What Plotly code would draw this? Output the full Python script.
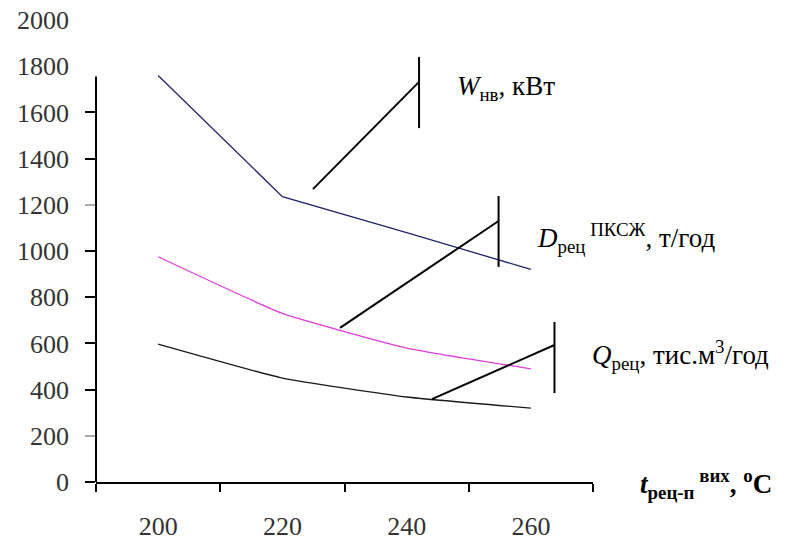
import plotly.graph_objects as go

# ---- data ----
categories = ["200", "220", "240", "260"]
W_nv = [1760, 1235, 1080, 920]      # W_нв, кВт
D_rec = [975, 730, 580, 490]        # D_рец ПКСЖ, т/год
Q_rec = [597, 450, 368, 320]        # Q_рец, тис.м3/год

y_tickvals = [0, 200, 400, 600, 800, 1000, 1200, 1400, 1600, 1800, 2000]
y_ticks_dark = [0, 400, 600, 800, 1000, 1400, 1600]
y_ticks_gray = [200, 1200]
y_axis_top = 1755

FONT = "Liberation Serif"

fig = go.Figure()
fig.add_trace(go.Scatter(x=categories, y=W_nv, mode="lines",
                         line=dict(color="#22226e", width=1.3), showlegend=False))
fig.add_trace(go.Scatter(x=categories, y=D_rec, mode="lines",
                         line=dict(color="#e03ce0", width=1.3, shape="spline", smoothing=0.4),
                         showlegend=False))
fig.add_trace(go.Scatter(x=categories, y=Q_rec, mode="lines",
                         line=dict(color="#1a1a1a", width=1.3, shape="spline", smoothing=0.4),
                         showlegend=False))
# empty traces so the overlay tick axes are drawn
fig.add_trace(go.Scatter(x=[], y=[], yaxis="y2", showlegend=False))
fig.add_trace(go.Scatter(x=[], y=[], yaxis="y3", showlegend=False))

tickfont = dict(family=FONT, size=26, color="#333")
fig.update_layout(
    width=794, height=542, autosize=False,
    margin=dict(l=88, r=209, t=12, b=68),
    paper_bgcolor="white", plot_bgcolor="white",
    font=dict(family=FONT),
    xaxis=dict(type="category", categoryarray=categories, range=[-0.5, 3.5],
               tickson="boundaries", ticks="outside", ticklen=8, tickwidth=2,
               tickcolor="black", showline=True, linecolor="black", linewidth=2,
               showgrid=False, zeroline=False, ticklabelstandoff=20, automargin=False,
               tickfont=tickfont),
    yaxis=dict(range=[0, 2000], tickvals=y_tickvals, ticks="", showline=False,
               showgrid=False, zeroline=False, ticklabelstandoff=26, automargin=False,
               ticklabeloverflow="allow", tickfont=tickfont),
    yaxis2=dict(range=[0, 2000], overlaying="y", tickvals=y_ticks_dark,
                ticks="outside", ticklen=10, tickwidth=2, tickcolor="black", automargin=False,
                showticklabels=False, showline=False, showgrid=False, zeroline=False),
    yaxis3=dict(range=[0, 2000], overlaying="y", tickvals=y_ticks_gray,
                ticks="outside", ticklen=10, tickwidth=2, tickcolor="#aaaaaa", automargin=False,
                showticklabels=False, showline=False, showgrid=False, zeroline=False),
)

# y-axis line (stops below the top labels, as in the original)
fig.add_shape(type="line", xref="paper", yref="y", x0=0, x1=0, y0=0, y1=y_axis_top,
              line=dict(color="black", width=2))

# callout leader lines (category index on x, value on y)
callouts = [
    # (diag start, diag end, bracket x, bracket y0, bracket y1)
    ((1.246, 1268), (2.10, 1732), 2.10, 1840, 1532),
    ((1.464, 667), (2.74, 1130), 2.74, 1238, 931),
    ((2.204, 359), (3.19, 593), 3.19, 693, 385),
]
for (xa, ya), (xb, yb), bx, by0, by1 in callouts:
    fig.add_shape(type="line", xref="x", yref="y", x0=xa, y0=ya, x1=xb, y1=yb,
                  line=dict(color="black", width=2))
    fig.add_shape(type="line", xref="x", yref="y", x0=bx, y0=by0, x1=bx, y1=by1,
                  line=dict(color="black", width=2))

labels = [
    (0.722, 0.852, "<i>W</i><sub>нв</sub>, кВт"),
    (0.883, 0.529, "<i>D</i><sub>рец</sub><sup> ПКСЖ</sup>, т/год"),
    (0.994, 0.275, "<i>Q</i><sub>рец</sub>, тис.м<sup>3</sup>/год"),
]
for x, y, t in labels:
    fig.add_annotation(x=x, y=y, xref="paper", yref="paper", text=t, showarrow=False,
                       xanchor="left", yanchor="middle",
                       font=dict(family=FONT, size=27, color="black"))

fig.add_annotation(x=1.09, y=-0.005, xref="paper", yref="paper",
                   text="<b><i>t</i></b><b><sub>рец-п</sub></b><b><sup> вих</sup></b><b>, <sup>o</sup>C</b>",
                   showarrow=False, xanchor="left", yanchor="middle",
                   font=dict(family=FONT, size=27, color="black"))

fig.write_html("out.html")
